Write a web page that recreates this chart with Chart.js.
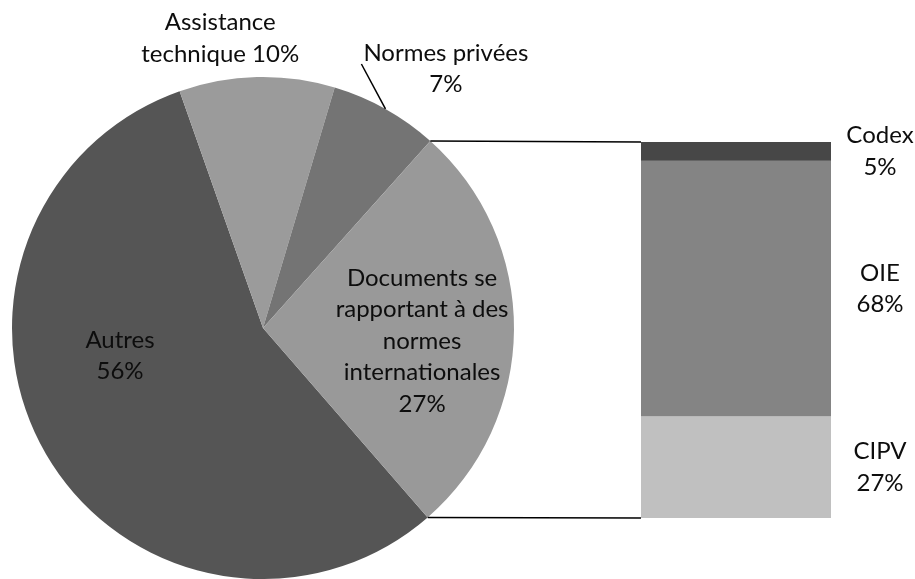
<!DOCTYPE html>
<html lang="fr">
<head>
<meta charset="UTF-8">
<title>Répartition des documents</title>
<script src="https://cdn.jsdelivr.net/npm/chart.js"></script>
<style>
  html, body { margin: 0; padding: 0; background: #fff; }
  #wrap { position: relative; width: 915px; height: 579px; overflow: hidden; }
  #wrap canvas { position: absolute; left: 0; top: 0; }
</style>
</head>
<body>
<div id="wrap">
  <canvas id="pieChart" width="915" height="579"></canvas>
  <canvas id="barChart" width="915" height="579"></canvas>
</div>
<script>
// secteurs du camembert
const pieNames = ['Autres', 'Assistance technique', 'Normes privées',
  'Documents se rapportant à des normes internationales'];
const pieValues = [56, 10, 7, 27];

// détail du secteur "Documents..." (du bas vers le haut)
const barNames = ['CIPV', 'OIE', 'Codex'];
const barValues = [27, 68, 5];

// couleurs
const pieColors = ['#555555', '#9b9b9b', '#747474', '#999999'];
const barColors = ['#c0c0c0', '#848484', '#474747'];

// coupure des libellés et placement (angle en degrés par rapport au milieu du secteur,
// distance en fraction du rayon)
const pieLabelCfg = [
  { lines: ['Autres'], inline: false, shift: 19.3, dist: 0.58 },
  { lines: ['Assistance', 'technique'], inline: true, shift: -7.0, dist: 1.167 },
  { lines: ['Normes privées'], inline: false, shift: 6.0, dist: 1.264, leader: true },
  { lines: ['Documents se', 'rapportant à des', 'normes', 'internationales'], inline: false, shift: 4.3, dist: 0.636 }
];

const FONT = '24px Lato, "Noto Sans", sans-serif';
const LINE_H = 31.5;
const TEXT = '#0d0d0d';

function labelLines(cfg, value) {
  const lines = cfg.lines.slice();
  if (cfg.inline) lines[lines.length - 1] += ' ' + value + '%';
  else lines.push(value + '%');
  return lines;
}

function drawBlock(ctx, lines, x, y) {
  const top = y - (lines.length - 1) * LINE_H / 2;
  lines.forEach((l, i) => ctx.fillText(l, x, top + i * LINE_H));
}

const pieLabelPlugin = {
  id: 'pieLabels',
  afterDatasetsDraw(chart) {
    const ctx = chart.ctx;
    const arcs = chart.getDatasetMeta(0).data;
    ctx.save();
    ctx.font = FONT;
    ctx.fillStyle = TEXT;
    ctx.textAlign = 'center';
    ctx.textBaseline = 'middle';
    arcs.forEach((arc, i) => {
      const cfg = pieLabelCfg[i];
      const mid = (arc.startAngle + arc.endAngle) / 2;
      const a = mid + cfg.shift * Math.PI / 180;
      const r = arc.outerRadius * cfg.dist;
      const x = arc.x + Math.cos(a) * r;
      const y = arc.y + Math.sin(a) * r;
      const lines = labelLines(cfg, pieValues[i]);
      drawBlock(ctx, lines, x, y);
      if (cfg.leader) {
        const w = ctx.measureText(lines[0]).width;
        const top = y - (lines.length - 1) * LINE_H / 2;
        ctx.beginPath();
        ctx.moveTo(x - w / 2 - 2, top + 11);
        ctx.lineTo(arc.x + Math.cos(mid) * arc.outerRadius, arc.y + Math.sin(mid) * arc.outerRadius);
        ctx.lineWidth = 1.5;
        ctx.strokeStyle = '#000';
        ctx.stroke();
      }
    });
    ctx.restore();
  }
};

const pieChart = new Chart(document.getElementById('pieChart'), {
  type: 'pie',
  data: {
    labels: pieNames,
    datasets: [{
      data: pieValues,
      backgroundColor: pieColors,
      borderWidth: 0,
      hoverOffset: 0
    }]
  },
  options: {
    responsive: false,
    animation: false,
    events: [],
    rotation: 139,
    layout: { padding: { left: 12, top: 77, right: 401, bottom: 0 } },
    plugins: { legend: { display: false }, tooltip: { enabled: false } }
  },
  plugins: [pieLabelPlugin]
});

// libellés de la barre + traits reliant le secteur à la barre
const barLabelPlugin = {
  id: 'barLabels',
  afterDatasetsDraw(chart) {
    const ctx = chart.ctx;
    const area = chart.chartArea;
    ctx.save();
    ctx.font = FONT;
    ctx.fillStyle = TEXT;
    ctx.textAlign = 'center';
    ctx.textBaseline = 'middle';
    let top = Infinity, bottom = -Infinity;
    chart.data.datasets.forEach((ds, i) => {
      const bar = chart.getDatasetMeta(i).data[0];
      top = Math.min(top, bar.y);
      bottom = Math.max(bottom, bar.base);
      drawBlock(ctx, [barNames[i], barValues[i] + '%'], area.right + 49, (bar.y + bar.base) / 2);
    });

    const arc = pieChart.getDatasetMeta(0).data[3];
    const p1 = [arc.x + Math.cos(arc.startAngle) * arc.outerRadius, arc.y + Math.sin(arc.startAngle) * arc.outerRadius];
    const p2 = [arc.x + Math.cos(arc.endAngle) * arc.outerRadius, arc.y + Math.sin(arc.endAngle) * arc.outerRadius];
    ctx.strokeStyle = '#000';
    ctx.lineWidth = 1.5;
    ctx.beginPath();
    ctx.moveTo(p1[0], p1[1]);
    ctx.lineTo(area.left, top);
    ctx.moveTo(p2[0], p2[1]);
    ctx.lineTo(area.left, bottom);
    ctx.stroke();
    ctx.restore();
  }
};

new Chart(document.getElementById('barChart'), {
  type: 'bar',
  data: {
    labels: [''],
    datasets: barNames.map((name, i) => ({
      label: name,
      data: [barValues[i]],
      backgroundColor: barColors[i],
      borderWidth: 0,
      barPercentage: 1,
      categoryPercentage: 1
    }))
  },
  options: {
    responsive: false,
    animation: false,
    events: [],
    layout: { padding: { left: 641, right: 84, top: 142, bottom: 61 } },
    scales: {
      x: { stacked: true, display: false },
      y: { stacked: true, display: false, min: 0, max: 100 }
    },
    plugins: { legend: { display: false }, tooltip: { enabled: false } }
  },
  plugins: [barLabelPlugin]
});
</script>
</body>
</html>
